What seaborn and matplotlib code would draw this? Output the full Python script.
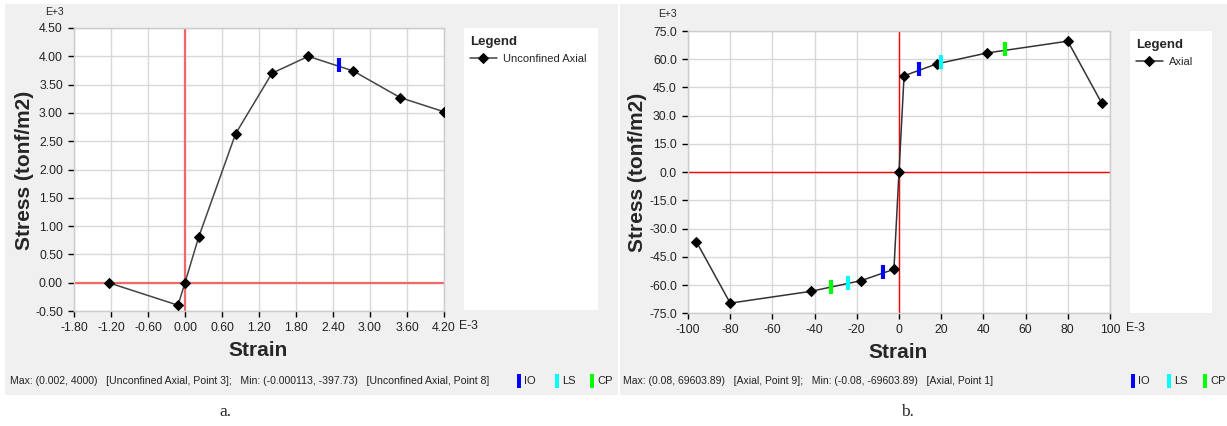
import numpy as np
import pandas as pd
import seaborn as sns
import matplotlib.pyplot as plt
from matplotlib.patches import Rectangle

# panel a: unconfined axial (strain E-3, stress E+3)
strain_a = [-1.24, -0.113, 0.0, 0.22, 0.82, 1.41, 2.0, 2.73, 3.49, 4.20]
stress_a = [0.0, -0.398, 0.0, 0.80, 2.63, 3.70, 4.00, 3.74, 3.27, 3.02]
hinge_a_x = [2.50]
hinge_a_y = [3.84]
hinge_a_lvl = ["IO"]

# panel b: axial (strain E-3, stress E+3)
strain_b = [-96, -80, -41.6, -17.8, -2.4, 0, 2.4, 17.8, 41.6, 80, 96]
stress_b = [-37.0, -69.6, -63.3, -57.6, -51.6, 0.0, 51.2, 57.5, 63.3, 69.6, 36.8]
hinge_b_x = [9.5, 20.0, 50.0, -7.6, -24.2, -32.2]
hinge_b_y = [54.7, 58.3, 65.2, -53.1, -58.8, -61.0]
hinge_b_lvl = ["IO", "LS", "CP", "IO", "LS", "CP"]

level_colors = {"IO": "#0000ff", "LS": "#00ffff", "CP": "#00ff00"}

sns.set_theme(style="white")
plt.rcParams['font.family'] = ['Liberation Sans', 'DejaVu Sans']

W, H = 1227, 426
fig = plt.figure(figsize=(W / 100, H / 100), dpi=100)


def fx(px):
    return px / W


def fy(py):
    return 1 - py / H


def frect(x0, y0, x1, y1, **kw):
    fig.add_artist(Rectangle((fx(x0), fy(y1)), fx(x1 - x0), (y1 - y0) / H,
                             transform=fig.transFigure, **kw))


# grey panels and white legend boxes (behind the axes and their legends)
frect(5, 4, 618, 395, facecolor="#f0f0f0", edgecolor="none", zorder=-3)
frect(620, 4, 1227, 395, facecolor="#f0f0f0", edgecolor="none", zorder=-3)
frect(464, 28, 598, 310, facecolor="white", edgecolor="none", zorder=-2)
frect(1130, 31, 1212, 313, facecolor="white", edgecolor="none", zorder=-2)


def fmt_ticks(vals, f):
    return [f.format(round(v, 2) + 0.0) for v in vals]


def panel(rect, xs, ys, name, hx, hy, hl, xticks, yticks, yfmt, xfmt, zero_col, zero_lw, line_col):
    ax = fig.add_axes(rect)
    ax.set_facecolor("white")
    df = pd.DataFrame({"strain": xs, "stress": ys})
    ax.axvline(0, color=zero_col, lw=zero_lw, zorder=1)
    ax.axhline(0, color=zero_col, lw=zero_lw, zorder=1)
    sns.lineplot(data=df, x="strain", y="stress", ax=ax, sort=False, color=line_col,
                 lw=1.1, marker="D", markersize=5, markerfacecolor="black",
                 markeredgecolor="black", label=name, legend=False, zorder=3)
    hdf = pd.DataFrame({"x": hx, "y": hy, "lvl": hl})
    for lvl, g in hdf.groupby("lvl"):
        sns.scatterplot(data=g, x="x", y="y", ax=ax, marker="|", s=105,
                        linewidth=3, color=level_colors[lvl], zorder=4, legend=False)
    ax.set_xlim(xticks[0], xticks[-1])
    ax.set_ylim(yticks[0], yticks[-1])
    ax.set_xticks(xticks)
    ax.set_yticks(yticks)
    ax.set_xticklabels(fmt_ticks(xticks, xfmt), fontsize=8.8, color="#222222")
    ax.set_yticklabels(fmt_ticks(yticks, yfmt), fontsize=8.8, color="#222222")
    ax.grid(True, color="#d8d8d8", lw=1)
    ax.tick_params(axis="both", length=4, width=1, color="black", direction="out",
                   bottom=True, left=True, pad=4)
    for s in ax.spines.values():
        s.set_color("#cccccc")
        s.set_linewidth(1)
    ax.set_xlabel("")
    ax.set_ylabel("")
    return ax


ax1 = panel([fx(74), fy(311), fx(370), 283 / H], strain_a, stress_a, "Unconfined Axial",
            hinge_a_x, hinge_a_y, hinge_a_lvl,
            list(np.arange(-1.8, 4.21, 0.6)), list(np.arange(-0.5, 4.51, 0.5)),
            "{:.2f}", "{:.2f}", "#f06868", 1.6, "#444444")
ax2 = panel([fx(688), fy(313.3), fx(422), 282.3 / H], strain_b, stress_b, "Axial",
            hinge_b_x, hinge_b_y, hinge_b_lvl,
            list(range(-100, 101, 20)), list(range(-75, 76, 15)),
            "{:.1f}", "{:.0f}", "#ff0000", 1.0, "#333333")

# legends in the white boxes
for ax, px, py in [(ax1, 460, 26), (ax2, 1126, 29)]:
    ax.legend(loc="upper left", bbox_to_anchor=(fx(px), fy(py)), bbox_transform=fig.transFigure,
              frameon=False, title="Legend", fontsize=8, handlelength=2.4, handletextpad=0.6,
              title_fontproperties={"weight": "bold", "size": 9.5}, alignment="left")

# axis titles and exponent labels
fig.text(fx(258), fy(350), "Strain", ha="center", va="center", fontsize=15, weight="bold")
fig.text(fx(898), fy(353), "Strain", ha="center", va="center", fontsize=15, weight="bold")
fig.text(fx(25), fy(170), "Stress (tonf/m2)", ha="center", va="center", rotation=90,
         fontsize=15, weight="bold")
fig.text(fx(638), fy(172), "Stress (tonf/m2)", ha="center", va="center", rotation=90,
         fontsize=15, weight="bold")
fig.text(fx(45), fy(12), "E+3", ha="left", va="center", fontsize=7.5)
fig.text(fx(658), fy(14), "E+3", ha="left", va="center", fontsize=7.5)
fig.text(fx(459), fy(326), "E-3", ha="left", va="center", fontsize=8.8, color="#222222")
fig.text(fx(1126), fy(328), "E-3", ha="left", va="center", fontsize=8.8, color="#222222")

# status lines
fig.text(fx(10), fy(381), "Max: (0.002, 4000)   [Unconfined Axial, Point 3];   "
         "Min: (-0.000113, -397.73)   [Unconfined Axial, Point 8]",
         ha="left", va="center", fontsize=7.6, color="#222222")
fig.text(fx(623), fy(381), "Max: (0.08, 69603.89)   [Axial, Point 9];   "
         "Min: (-0.08, -69603.89)   [Axial, Point 1]",
         ha="left", va="center", fontsize=7.5, color="#222222")
for x0, lab in [(517, "IO"), (555, "LS"), (590, "CP"), (1131, "IO"), (1167, "LS"), (1203, "CP")]:
    frect(x0, 374, x0 + 4, 388, facecolor=level_colors[lab], edgecolor="none", zorder=2)
    fig.text(fx(x0 + 7), fy(381), lab, ha="left", va="center", fontsize=8, color="#222222")

# captions
fig.text(fx(225), fy(412), "a.", ha="center", va="center", fontsize=12.5,
         family=["Liberation Serif", "DejaVu Serif"])
fig.text(fx(907), fy(412), "b.", ha="center", va="center", fontsize=12.5,
         family=["Liberation Serif", "DejaVu Serif"])

fig.savefig("out.png", dpi=100, facecolor="white")
